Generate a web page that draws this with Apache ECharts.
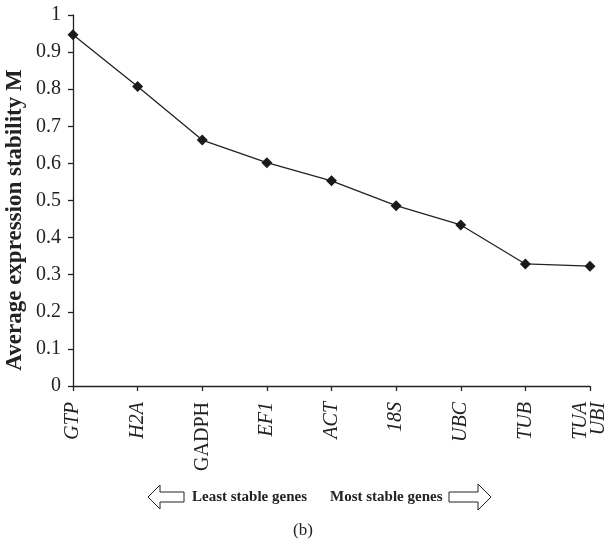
<!DOCTYPE html>
<html>
<head>
<meta charset="utf-8">
<script src="https://cdn.jsdelivr.net/npm/echarts@6/dist/echarts.min.js"></script>
<style>html,body{margin:0;padding:0;background:#fff;}#c{width:609px;height:553px;}</style>
</head>
<body>
<div id="c"></div>
<script>
const categories = ['GTP', 'H2A', 'GADPH', 'EF1', 'ACT', '18S', 'UBC', 'TUB', 'TUA\nUBI'];
const stabilityM = [0.947, 0.807, 0.663, 0.602, 0.553, 0.486, 0.434, 0.329, 0.323];
const yTicks = { min: 0, max: 1, interval: 0.1 };
const yAxisTitle = 'Average expression stability M';
const leftNote = 'Least stable genes';
const rightNote = 'Most stable genes';
const panelLabel = '(b)';

const serif = '"Liberation Serif", "DejaVu Serif", serif';
const chart = echarts.init(document.getElementById('c'), null, { renderer: 'canvas' });

const option = {
  animation: false,
  backgroundColor: '#fff',
  grid: { left: 73, right: 15, top: 15, bottom: 167, containLabel: false },
  xAxis: {
    type: 'category',
    data: categories,
    boundaryGap: false,
    axisLine: { lineStyle: { color: '#222', width: 1.3 } },
    axisTick: { alignWithLabel: true, length: 5, lineStyle: { color: '#222', width: 1.3 } },
    axisLabel: {
      rotate: 90,
      margin: 16,
      color: '#222',
      fontFamily: serif,
      fontSize: 20,
      fontStyle: 'italic',
      lineHeight: 18,
      interval: 0,
      formatter: function (v) { return v === 'GADPH' ? '{n|' + v + '}' : v; },
      rich: { n: { fontStyle: 'normal', fontFamily: serif, fontSize: 20, color: '#222' } }
    },
    splitLine: { show: false }
  },
  yAxis: {
    type: 'value',
    min: yTicks.min,
    max: yTicks.max,
    interval: yTicks.interval,
    axisLine: { show: true, lineStyle: { color: '#222', width: 1.3 } },
    axisTick: { show: true, length: 5, lineStyle: { color: '#222', width: 1.3 } },
    axisLabel: {
      margin: 12,
      color: '#222',
      fontFamily: serif,
      fontSize: 20,
      formatter: function (v) { return String(Math.round(v * 10) / 10); }
    },
    splitLine: { show: false }
  },
  series: [{
    type: 'line',
    data: stabilityM,
    symbol: 'diamond',
    symbolSize: 11,
    lineStyle: { color: '#222', width: 1.3 },
    itemStyle: { color: '#1a1a1a' }
  }],
  graphic: [
    {
      type: 'text', x: 15, y: 220, rotation: Math.PI / 2,
      style: { text: yAxisTitle, font: 'bold 23px ' + serif, fill: '#222', align: 'center', verticalAlign: 'middle' }
    },
    {
      type: 'polygon',
      shape: { points: [[148, 497], [160, 485], [160, 492], [184, 492], [184, 502], [160, 502], [160, 509]] },
      style: { fill: '#fff', stroke: '#222', lineWidth: 1 }
    },
    {
      type: 'polygon',
      shape: { points: [[491, 497], [478, 484], [478, 492], [449, 492], [449, 502], [478, 502], [478, 510]] },
      style: { fill: '#fff', stroke: '#222', lineWidth: 1 }
    },
    {
      type: 'text', x: 192, y: 497,
      style: { text: leftNote, font: 'bold 15px ' + serif, fill: '#222', align: 'left', verticalAlign: 'middle' }
    },
    {
      type: 'text', x: 330, y: 497,
      style: { text: rightNote, font: 'bold 15px ' + serif, fill: '#222', align: 'left', verticalAlign: 'middle' }
    },
    {
      type: 'text', x: 303, y: 531,
      style: { text: panelLabel, font: '17px ' + serif, fill: '#222', align: 'center', verticalAlign: 'middle' }
    }
  ]
};
chart.setOption(option);
</script>
</body>
</html>
